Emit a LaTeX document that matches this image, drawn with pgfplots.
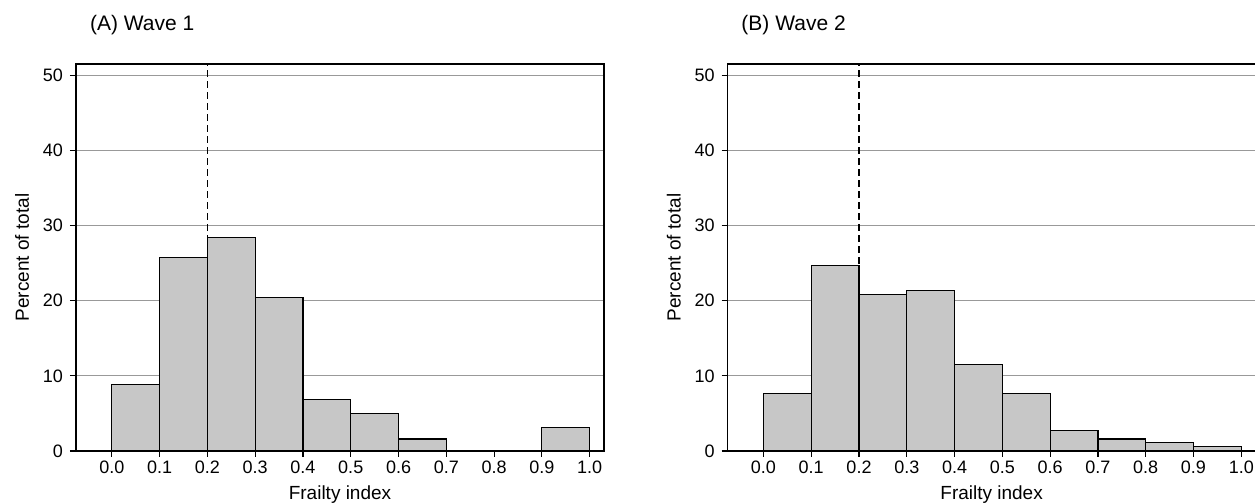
\documentclass[border=0pt]{standalone}
\usepackage{fontspec}
\setmainfont{Liberation Sans}
\usepackage{pgfplots}
\pgfplotsset{compat=1.18}

% shared look of both histograms
\pgfplotsset{
  frailty/.style={
    scale only axis, width=264pt, height=193.5pt,
    xmin=-0.075, xmax=1.03, ymin=0, ymax=51.5,
    xtick={0,0.1,0.2,0.3,0.4,0.5,0.6,0.7,0.8,0.9,1.0},
    ytick={0,10,20,30,40,50},
    ymajorgrids, grid style={black!40, line width=0.5pt},
    tick align=outside, tick pos=left,
    major tick length=3pt,
    /pgf/number format/assume math mode=true,
    xticklabel style={yshift=1.5pt, /pgf/number format/fixed, /pgf/number format/fixed zerofill, /pgf/number format/precision=1},
    tick label style={font=\fontsize{9}{10}\selectfont},
    label style={font=\fontsize{9.5}{11}\selectfont},
    xlabel={Frailty index}, ylabel={Percent of total},
    xlabel style={at={(axis description cs:0.5,0)}, anchor=center, yshift=-22pt},
    axis line style={black, line width=0.6pt},
    every tick/.style={black, line width=0.6pt},
  },
  hist/.style={ybar interval, fill=black!22, draw=black, line width=0.6pt},
  cut/.style={black, line width=0.8pt, dash pattern=on 3.5pt off 2pt},
}

\begin{document}
\begin{tikzpicture}
  \begin{axis}[frailty, at={(38pt,26.5pt)}, anchor=south west]
    \addplot[hist] coordinates {
      (0.0,8.8) (0.1,25.8) (0.2,28.4) (0.3,20.4) (0.4,6.9)
      (0.5,5.0) (0.6,1.6) (0.7,0) (0.8,0) (0.9,3.1) (1.0,3.1)
    };
    \addplot[cut] coordinates {(0.2,0) (0.2,51.5)};
  \end{axis}
  \begin{axis}[frailty, at={(363.8pt,26.5pt)}, anchor=south west]
    \addplot[hist] coordinates {
      (0.0,7.7) (0.1,24.7) (0.2,20.8) (0.3,21.4) (0.4,11.5)
      (0.5,7.7) (0.6,2.7) (0.7,1.6) (0.8,1.1) (0.9,0.6) (1.0,0.6)
    };
    \addplot[cut] coordinates {(0.2,0) (0.2,51.5)};
  \end{axis}
  \node[anchor=west, font=\fontsize{10.5}{12}\selectfont] at (41.5pt,239.5pt) {(A) Wave 1};
  \node[anchor=west, font=\fontsize{10.5}{12}\selectfont] at (367.2pt,239.5pt) {(B) Wave 2};
  \pgfresetboundingbox
  \path[use as bounding box] (0,0) rectangle (627.5pt,252pt);
\end{tikzpicture}
\end{document}
